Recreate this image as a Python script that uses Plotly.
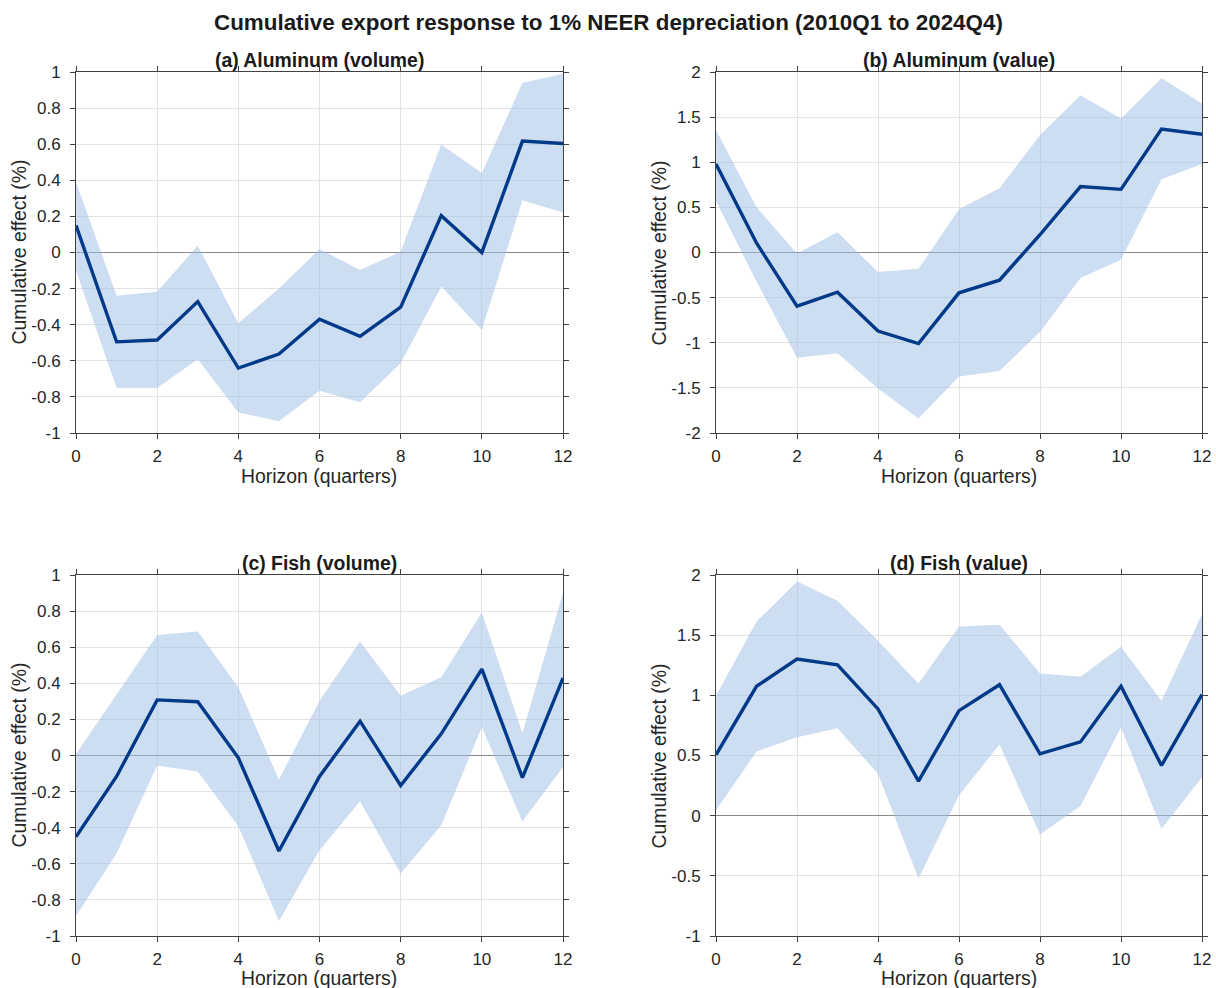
import plotly.graph_objects as go

horizon = list(range(13))

# (a) Aluminum (volume)
alu_vol_irf = [0.15, -0.495, -0.485, -0.272, -0.64, -0.563, -0.37, -0.465, -0.303, 0.204, 0.0, 0.617, 0.604]
alu_vol_upper = [0.39, -0.239, -0.217, 0.038, -0.392, -0.2, 0.019, -0.097, 0.005, 0.598, 0.441, 0.939, 0.99]
alu_vol_lower = [-0.1, -0.751, -0.751, -0.591, -0.886, -0.935, -0.766, -0.829, -0.613, -0.189, -0.429, 0.29, 0.222]

# (b) Aluminum (value)
alu_val_irf = [0.98, 0.105, -0.594, -0.44, -0.87, -1.01, -0.447, -0.307, 0.197, 0.73, 0.70, 1.367, 1.31]
alu_val_upper = [1.356, 0.502, -0.01, 0.223, -0.215, -0.18, 0.48, 0.712, 1.30, 1.742, 1.485, 1.93, 1.65]
alu_val_lower = [0.57, -0.32, -1.165, -1.117, -1.507, -1.838, -1.374, -1.312, -0.881, -0.282, -0.079, 0.811, 0.98]

# (c) Fish (volume)
fish_vol_irf = [-0.451, -0.116, 0.308, 0.298, -0.013, -0.529, -0.116, 0.19, -0.166, 0.12, 0.479, -0.123, 0.429]
fish_vol_upper = [0.009, 0.34, 0.667, 0.687, 0.378, -0.134, 0.304, 0.632, 0.331, 0.433, 0.792, 0.123, 0.902]
fish_vol_lower = [-0.889, -0.543, -0.055, -0.088, -0.392, -0.917, -0.525, -0.254, -0.654, -0.387, 0.157, -0.365, -0.064]

# (d) Fish (value)
fish_val_irf = [0.506, 1.075, 1.301, 1.254, 0.887, 0.287, 0.873, 1.088, 0.514, 0.613, 1.075, 0.417, 1.006]
fish_val_upper = [0.997, 1.613, 1.945, 1.785, 1.453, 1.099, 1.572, 1.586, 1.182, 1.155, 1.403, 0.956, 1.674]
fish_val_lower = [0.044, 0.533, 0.652, 0.727, 0.348, -0.522, 0.169, 0.591, -0.157, 0.080, 0.735, -0.108, 0.320]

panel_titles = ["(a) Aluminum (volume)", "(b) Aluminum (value)", "(c) Fish (volume)", "(d) Fish (value)"]
main_title = "Cumulative export response to 1% NEER depreciation (2010Q1 to 2024Q4)"
x_title = "Horizon (quarters)"
y_title = "Cumulative effect (%)"

x_ticks = [0, 2, 4, 6, 8, 10, 12]
y_ticks_vol = [-1, -0.8, -0.6, -0.4, -0.2, 0, 0.2, 0.4, 0.6, 0.8, 1]
y_ticktext_vol = ["-1", "-0.8", "-0.6", "-0.4", "-0.2", "0", "0.2", "0.4", "0.6", "0.8", "1"]
y_ticks_alu_val = [-2, -1.5, -1, -0.5, 0, 0.5, 1, 1.5, 2]
y_ticktext_alu_val = ["-2", "-1.5", "-1", "-0.5", "0", "0.5", "1", "1.5", "2"]
y_ticks_fish_val = [-1, -0.5, 0, 0.5, 1, 1.5, 2]
y_ticktext_fish_val = ["-1", "-0.5", "0", "0.5", "1", "1.5", "2"]

panels = [
    (alu_vol_irf, alu_vol_upper, alu_vol_lower, [-1, 1], y_ticks_vol, y_ticktext_vol),
    (alu_val_irf, alu_val_upper, alu_val_lower, [-2, 2], y_ticks_alu_val, y_ticktext_alu_val),
    (fish_vol_irf, fish_vol_upper, fish_vol_lower, [-1, 1], y_ticks_vol, y_ticktext_vol),
    (fish_val_irf, fish_val_upper, fish_val_lower, [-1, 2], y_ticks_fish_val, y_ticktext_fish_val),
]

# the page body margin is removed (see post_script), so figure == window
OFF = 0
W, H = 1216, 988
# pixel boxes in window coordinates (left, right, top, bottom)
boxes = [(76, 563, 72, 433), (716, 1202, 72, 433), (76, 563, 575, 936), (716, 1202, 575, 936)]
# axis-title centres in window coordinates
xtitle_y = [476, 476, 978, 978]
ytitle_x = [18, 658, 18, 658]


def px(xw):
    return (xw - OFF) / W


def py(yw):
    return 1 - (yw - OFF) / H


LINE = "#003A88"
BAND = "rgba(160,190,230,0.52)"
FONT = "Liberation Sans, Arial, sans-serif"
TXT = "#262626"

fig = go.Figure()
layout = dict(
    width=W, height=H,
    margin=dict(l=0, r=0, t=0, b=0),
    paper_bgcolor="white", plot_bgcolor="white",
    showlegend=False,
    font=dict(family=FONT, size=17, color=TXT),
)
annotations = []

for i, (irf, up, lo, yr, yt, ytt) in enumerate(panels):
    xa = "x" if i == 0 else f"x{i+1}"
    ya = "y" if i == 0 else f"y{i+1}"
    fig.add_trace(go.Scatter(
        x=horizon + horizon[::-1], y=up + lo[::-1],
        fill="toself", fillcolor=BAND, line=dict(width=0),
        mode="lines", hoverinfo="skip", xaxis=xa, yaxis=ya))
    fig.add_trace(go.Scatter(
        x=horizon, y=irf, mode="lines",
        line=dict(color=LINE, width=3.4), xaxis=xa, yaxis=ya))
    l, r, t, b = boxes[i]
    axis_common = dict(
        showline=True, linecolor="#404040", linewidth=1, mirror="ticks",
        ticks="outside", ticklen=5, tickcolor="#404040",
        showgrid=True, gridcolor="#e3e3e3", gridwidth=1,
        tickfont=dict(family=FONT, size=17, color=TXT),
        automargin=False,
    )
    xkey = "xaxis" if i == 0 else f"xaxis{i+1}"
    ykey = "yaxis" if i == 0 else f"yaxis{i+1}"
    layout[xkey] = dict(
        axis_common, domain=[px(l), px(r)], anchor=ya, range=[0, 12],
        tickvals=x_ticks, zeroline=False, ticklabelstandoff=3,
    )
    layout[ykey] = dict(
        axis_common, domain=[py(b), py(t)], anchor=xa, range=yr,
        tickvals=yt, ticktext=ytt, ticklabelstandoff=6,
        zeroline=True, zerolinecolor="#8a8a8a", zerolinewidth=1.2,
    )
    annotations.append(dict(
        text=f"<b>{panel_titles[i]}</b>", x=px((l + r) / 2), y=py(t + 1),
        xref="paper", yref="paper", xanchor="center", yanchor="bottom",
        showarrow=False, font=dict(family=FONT, size=19.4, color="#1a1a1a")))
    annotations.append(dict(
        text=x_title, x=px((l + r) / 2), y=py(xtitle_y[i]),
        xref="paper", yref="paper", xanchor="center", yanchor="middle",
        showarrow=False, font=dict(family=FONT, size=19.4, color=TXT)))
    annotations.append(dict(
        text=y_title, x=px(ytitle_x[i]), y=py((t + b) / 2), textangle=-90,
        xref="paper", yref="paper", xanchor="center", yanchor="middle",
        showarrow=False, font=dict(family=FONT, size=19.4, color=TXT)))

annotations.append(dict(
    text=f"<b>{main_title}</b>", x=px(608), y=py(22),
    xref="paper", yref="paper", xanchor="center", yanchor="middle",
    showarrow=False, font=dict(family=FONT, size=22.4, color="#1a1a1a")))

layout["annotations"] = annotations
fig.update_layout(**layout)
fig.write_html(
    "out.html",
    config={"displayModeBar": False},
    post_script="document.body.style.margin='0px';document.body.style.overflow='hidden';",
)
